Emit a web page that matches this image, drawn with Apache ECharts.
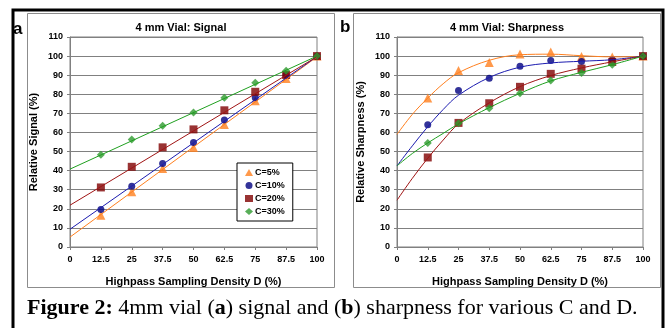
<!DOCTYPE html>
<html><head><meta charset="utf-8">
<script src="https://cdn.jsdelivr.net/npm/echarts@6/dist/echarts.min.js"></script>
<style>html,body{margin:0;padding:0;background:#fff}#c{width:667px;height:328px}</style>
</head><body><div id="c"></div>
<script>
// ---- data ----
const xs = [12.5, 25, 37.5, 50, 62.5, 75, 87.5, 100];
const xTicks = [0, 12.5, 25, 37.5, 50, 62.5, 75, 87.5, 100];
const seriesNames = ['C=5%', 'C=10%', 'C=20%', 'C=30%'];

const signal5  = [16.6, 28.9, 41.1, 52.1, 64.2, 76.6, 88.3, 100];
const signal10 = [19.6, 31.8, 43.7, 54.8, 66.5, 78.2, 90.1, 100];
const signal20 = [31.2, 42.0, 52.2, 61.6, 71.6, 81.3, 90.1, 100];
const signal30 = [48.3, 56.3, 63.5, 70.5, 78.2, 86.0, 92.3, 100];

const signalFitX  = [0, 100];
const signalFit5  = [5.2, 99.6];
const signalFit10 = [9.3, 99.8];
const signalFit20 = [21.9, 99.7];
const signalFit30 = [40.8, 100];

const sharp5  = [78.1, 92.5, 96.7, 101.1, 102.1, 99.8, 99.5, 100];
const sharp10 = [64.1, 82.0, 88.4, 94.7, 97.7, 97.2, 98.1, 100];
const sharp20 = [46.9, 65.0, 75.3, 83.9, 90.7, 93.4, 96.9, 100];
const sharp30 = [54.5, 64.8, 72.7, 80.6, 87.2, 91.1, 95.5, 100];

const sharpFitX  = [0, 6.25, 12.5, 18.75, 25, 37.5, 50, 62.5, 75, 87.5, 100];
const sharpFit5  = [59, 69.5, 78, 85.5, 91.3, 97.8, 100.7, 101, 100.2, 99.6, 99.7];
const sharpFit10 = [42.5, 53, 63, 72, 79.5, 88.8, 94.2, 96.4, 97.3, 98.1, 100];
const sharpFit20 = [24.5, 36, 46.5, 56, 64.5, 75.5, 84, 89.8, 93.8, 97, 100];
const sharpFit30 = [42.5, 49, 54.5, 59.5, 64.5, 73, 80.5, 87, 91.5, 95.5, 100];

// ---- styles ----
const SANS = 'Liberation Sans, Arial, sans-serif';
const SERIF = 'Liberation Serif, Times New Roman, serif';
const markerColors = ['#FF7F1E', '#000080', '#800000', '#2E9A2E'];
const lineColors   = ['#FF7F1E', '#1C1CB0', '#A01414', '#1FA01F'];
const symbols = ['triangle', 'circle', 'rect', 'diamond'];
const symbolSizes = [9, 7, 8, 8];

const pair = (xArr, yArr) => xArr.map((x, i) => [x, yArr[i]]);

function axes(idx, yName) {
  return {
    x: {
      type: 'value', gridIndex: idx, min: 0, max: 100, interval: 12.5,
      name: 'Highpass Sampling Density D (%)', nameLocation: 'middle', nameGap: 29,
      nameTextStyle: { fontFamily: SANS, fontWeight: 'bold', fontSize: 11, color: '#000' },
      axisLine: { show: true, onZero: false, lineStyle: { color: '#808080', width: 1 } },
      axisTick: { show: true, length: 3, lineStyle: { color: '#808080' } },
      axisLabel: { margin: 8, fontFamily: SANS, fontWeight: 'bold', fontSize: 9, color: '#000',
        formatter: v => String(v) },
      splitLine: { show: false }
    },
    y: {
      type: 'value', gridIndex: idx, min: 0, max: 110, interval: 10,
      name: yName, nameLocation: 'middle', nameGap: 31, nameRotate: 90,
      nameTextStyle: { fontFamily: SANS, fontWeight: 'bold', fontSize: 11, color: '#000' },
      axisLine: { show: true, lineStyle: { color: '#808080', width: 1 } },
      axisTick: { show: true, length: 3, lineStyle: { color: '#808080' } },
      axisLabel: { margin: 7, fontFamily: SANS, fontWeight: 'bold', fontSize: 9, color: '#000' },
      splitLine: { show: true, lineStyle: { color: '#808080', width: 1 } }
    }
  };
}
const aAx = axes(0, 'Relative Signal (%)');
const bAx = axes(1, 'Relative Sharpness (%)');

const series = [];
const sigData = [signal5, signal10, signal20, signal30];
const sigFit = [signalFit5, signalFit10, signalFit20, signalFit30];
const shData = [sharp5, sharp10, sharp20, sharp30];
const shFit = [sharpFit5, sharpFit10, sharpFit20, sharpFit30];
for (let i = 0; i < 4; i++) {
  series.push({
    name: seriesNames[i], type: 'scatter', xAxisIndex: 0, yAxisIndex: 0,
    data: pair(xs, sigData[i]), symbol: symbols[i], symbolSize: symbolSizes[i],
    itemStyle: { color: markerColors[i] }, z: 3
  });
  series.push({
    name: 'fitA' + i, type: 'line', xAxisIndex: 0, yAxisIndex: 0,
    data: pair(signalFitX, sigFit[i]), showSymbol: false, symbol: 'none',
    lineStyle: { color: lineColors[i], width: 1 }, z: 4, silent: true
  });
  series.push({
    name: 'B ' + seriesNames[i], type: 'scatter', xAxisIndex: 1, yAxisIndex: 1,
    data: pair(xs, shData[i]), symbol: symbols[i], symbolSize: symbolSizes[i],
    itemStyle: { color: markerColors[i] }, z: 3
  });
  series.push({
    name: 'fitB' + i, type: 'line', xAxisIndex: 1, yAxisIndex: 1,
    data: pair(sharpFitX, shFit[i]), showSymbol: false, symbol: 'none', smooth: 0.35,
    lineStyle: { color: lineColors[i], width: 1 }, z: 4, silent: true
  });
}

const chart = echarts.init(document.getElementById('c'), null, { renderer: 'canvas' });
chart.setOption({
  animation: false,
  backgroundColor: '#fff',
  grid: [
    { left: 70, top: 37, width: 247, height: 210, show: true, borderColor: '#808080', borderWidth: 1, backgroundColor: '#fff' },
    { left: 397, top: 37, width: 246, height: 210, show: true, borderColor: '#808080', borderWidth: 1, backgroundColor: '#fff' }
  ],
  xAxis: [aAx.x, bAx.x],
  yAxis: [aAx.y, bAx.y],
  legend: {
    data: seriesNames, orient: 'vertical', left: 237, top: 163,
    itemWidth: 8, itemHeight: 7, itemGap: 4, padding: [5, 8, 5, 8],
    backgroundColor: '#fff', borderColor: '#000', borderWidth: 1,
    textStyle: { fontFamily: SANS, fontWeight: 'bold', fontSize: 9, color: '#000', padding: [0, 0, 0, -3] },
    selectedMode: false
  },
  series: series,
  graphic: [
    { type: 'rect', shape: { x: 27.5, y: 13.5, width: 307, height: 274 }, style: { fill: 'none', stroke: '#8c8c8c', lineWidth: 1 }, z: -1 },
    { type: 'rect', shape: { x: 353.5, y: 13.5, width: 307, height: 274 }, style: { fill: 'none', stroke: '#8c8c8c', lineWidth: 1 }, z: -1 },
    { type: 'polyline', shape: { points: [[13, 328], [13, 10], [663, 10], [663, 328]] }, style: { fill: 'none', stroke: '#000', lineWidth: 3 } },
    { type: 'text', x: 13, y: 29, style: { text: 'a', font: 'bold 17px ' + SANS, fill: '#000', textVerticalAlign: 'middle', verticalAlign: 'middle' } },
    { type: 'text', x: 340, y: 27, style: { text: 'b', font: 'bold 17px ' + SANS, fill: '#000', textVerticalAlign: 'middle', verticalAlign: 'middle' } },
    { type: 'text', x: 181, y: 28, style: { text: '4 mm Vial: Signal', font: 'bold 11px ' + SANS, fill: '#000', textAlign: 'center', align: 'center', textVerticalAlign: 'middle', verticalAlign: 'middle' } },
    { type: 'text', x: 507, y: 28, style: { text: '4 mm Vial: Sharpness', font: 'bold 11px ' + SANS, fill: '#000', textAlign: 'center', align: 'center', textVerticalAlign: 'middle', verticalAlign: 'middle' } },
    { type: 'text', x: 27, y: 308, style: {
        text: '{b|Figure 2:} 4mm vial ({b|a}) signal and ({b|b}) sharpness for various C and D.',
        font: '22px ' + SERIF, fontSize: 22, fontFamily: SERIF, fill: '#000',
        textVerticalAlign: 'middle', verticalAlign: 'middle',
        rich: { b: { fontWeight: 'bold', fontSize: 22, fontFamily: SERIF, fill: '#000' } }
      } }
  ]
});
</script>
</body></html>
